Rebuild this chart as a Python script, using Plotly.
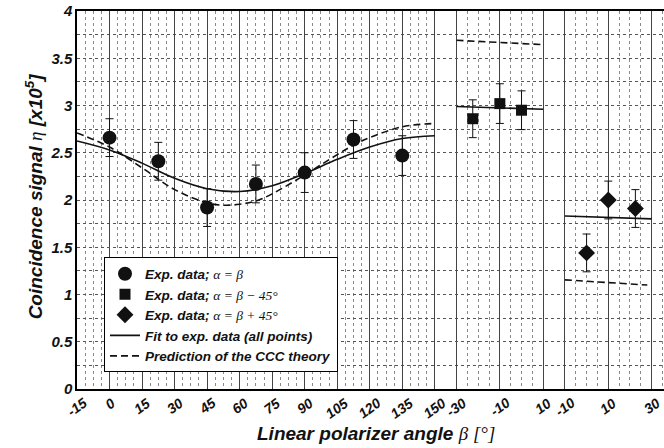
import plotly.graph_objects as go

# ---------------- data ----------------
# panel offsets on the shared (virtual) x axis
offsets = [0, 190, 220]

# Exp. data alpha = beta (panel 1)
beta1 = [0, 22.5, 45, 67.5, 90, 112.5, 135]
eta1 = [2.66, 2.41, 1.92, 2.17, 2.29, 2.64, 2.47]
err1 = [0.20, 0.20, 0.20, 0.20, 0.21, 0.20, 0.21]

# Exp. data alpha = beta - 45 (panel 2)
beta2 = [-22.5, -10, 0]
eta2 = [2.86, 3.02, 2.95]
err2 = [0.20, 0.21, 0.205]

# Exp. data alpha = beta + 45 (panel 3)
beta3 = [0, 10, 22.5]
eta3 = [1.44, 2.00, 1.91]
err3 = [0.20, 0.20, 0.20]

# Fit to exp. data (panel 1)
fit1_beta = [-15, 0, 15, 30, 45, 60, 75, 90, 105, 120, 135, 150]
fit1_eta = [2.625, 2.53, 2.39, 2.23, 2.12, 2.09, 2.15, 2.28, 2.43, 2.56, 2.65, 2.68]
fit2_beta = [-30, 10]
fit2_eta = [2.99, 2.96]
fit3_beta = [-10, 30]
fit3_eta = [1.83, 1.80]

# Prediction of the CCC theory
ccc1_beta = [-15, 0, 15, 30, 45, 52.5, 60, 67.5, 75, 90, 105, 112.5, 120, 135, 150]
ccc1_eta = [2.71, 2.56, 2.34, 2.11, 1.97, 1.945, 1.955, 1.99, 2.065, 2.265, 2.48, 2.58, 2.66, 2.775, 2.81]
ccc2_beta = [-30, 9]
ccc2_eta = [3.69, 3.645]
ccc3_beta = [-10, 28]
ccc3_eta = [1.155, 1.10]

# x tick positions (virtual axis) and labels
xtick_vals = [-15, 0, 15, 30, 45, 60, 75, 90, 105, 120, 135, 150, 160, 180, 200, 210, 230, 250]
xtick_text = ["-15", "0", "15", "30", "45", "60", "75", "90", "105", "120", "135", "150",
              "-30", "-10", "10", "-10", "10", "30"]

FONT = "Liberation Sans"
SERIF = "Liberation Serif"
INK = "#111111"


def shift(vals, off):
    return [v + off for v in vals]


def join(segs):
    xs, ys = [], []
    for i, (b, e, off) in enumerate(segs):
        if i:
            xs.append(None)
            ys.append(None)
        xs += shift(b, off)
        ys += e
    return xs, ys


fig = go.Figure()

# minor vertical dotted lines
minor_x = [-15 + 3.75 * k for k in range(45) if k % 4 != 0]
minor_x += [165, 170, 175, 185, 190, 195, 215, 220, 225, 235, 240, 245, 255]

sym = lambda s: f"<span style='font-family:{SERIF};font-weight:normal'><i>{s}</i></span>"

fig.add_trace(go.Scatter(
    x=shift(beta1, offsets[0]), y=eta1, mode="markers",
    marker=dict(symbol="circle", size=14, color=INK),
    error_y=dict(type="data", array=err1, color=INK, thickness=1, width=4),
    name="<b><i>Exp. data;</i></b> " + sym("α = β"),
))
fig.add_trace(go.Scatter(
    x=shift(beta2, offsets[1]), y=eta2, mode="markers",
    marker=dict(symbol="square", size=11, color=INK),
    error_y=dict(type="data", array=err2, color=INK, thickness=1, width=4),
    name="<b><i>Exp. data;</i></b> " + sym("α = β − 45°"),
))
fig.add_trace(go.Scatter(
    x=shift(beta3, offsets[2]), y=eta3, mode="markers",
    marker=dict(symbol="diamond", size=13, color=INK),
    error_y=dict(type="data", array=err3, color=INK, thickness=1, width=4),
    name="<b><i>Exp. data;</i></b> " + sym("α = β + 45°"),
))

fx, fy = join([(fit1_beta, fit1_eta, offsets[0]), (fit2_beta, fit2_eta, offsets[1]),
               (fit3_beta, fit3_eta, offsets[2])])
fig.add_trace(go.Scatter(
    x=fx, y=fy, mode="lines", line=dict(color=INK, width=1.6, shape="spline"),
    connectgaps=False, name="<b><i>Fit to exp. data (all points)</i></b>",
))
cx, cy = join([(ccc1_beta, ccc1_eta, offsets[0]), (ccc2_beta, ccc2_eta, offsets[1]),
               (ccc3_beta, ccc3_eta, offsets[2])])
fig.add_trace(go.Scatter(
    x=cx, y=cy, mode="lines", line=dict(color=INK, width=1.6, dash="7px,4px", shape="spline"),
    connectgaps=False, name="<b><i>Prediction of the CCC theory</i></b>",
))

fig.update_xaxes(
    range=[-15, 255.7], tickvals=xtick_vals, showticklabels=False,
    showgrid=True, gridcolor="#444444", gridwidth=1,
    minor=dict(tickvals=minor_x, showgrid=True, gridcolor="#8a8a8a", griddash="dot", gridwidth=1),
    showline=True, linecolor="black", linewidth=1.5, mirror=True,
    zeroline=False, ticks="", automargin=False,
)
fig.update_yaxes(
    range=[0, 4], dtick=0.5, tick0=0,
    showgrid=True, gridcolor="#555555", griddash="dot", gridwidth=1,
    minor=dict(dtick=0.25, showgrid=True, gridcolor="#555555", griddash="dot", gridwidth=1),
    showline=True, linecolor="black", linewidth=1.5, mirror=False,
    zeroline=False, ticks="", automargin=False,
    tickfont=dict(family=FONT, size=15, color=INK, weight="bold", style="italic"),
)

annotations = []
for v, t in zip(xtick_vals, xtick_text):
    annotations.append(dict(
        x=v, y=0, xref="x", yref="paper", text=f"<b><i>{t}</i></b>", showarrow=False,
        xanchor="center", yanchor="top", yshift=-3, textangle=-36,
        font=dict(family=FONT, size=14, color=INK),
    ))

annotations.append(dict(
    x=0.51, y=-0.118, xref="paper", yref="paper", showarrow=False,
    xanchor="center", yanchor="middle",
    text="<b><i>Linear polarizer angle </i></b>" + f"<span style='font-family:{SERIF}'><i>β [°]</i></span>",
    font=dict(family=FONT, size=19, color=INK),
))
annotations.append(dict(
    x=-0.073, y=0.51, xref="paper", yref="paper", showarrow=False,
    xanchor="center", yanchor="middle", textangle=-90,
    text="<b><i>Coincidence signal </i></b>" + f"<span style='font-family:{SERIF}'><i>η</i></span>"
         + "<b><i> [x10<sup>5</sup>]</i></b>",
    font=dict(family=FONT, size=19, color=INK),
))

fig.update_layout(
    width=664, height=448,
    margin=dict(l=77, r=0, t=11, b=59),
    paper_bgcolor="white", plot_bgcolor="white",
    annotations=annotations,
    showlegend=True,
    legend=dict(
        x=0.046, y=0.196, xanchor="left", yanchor="middle",
        bgcolor="white", bordercolor="black", borderwidth=1,
        font=dict(family=FONT, size=13.5, color=INK),
        tracegroupgap=0, itemwidth=30,
    ),
)

fig.write_html("out.html")
